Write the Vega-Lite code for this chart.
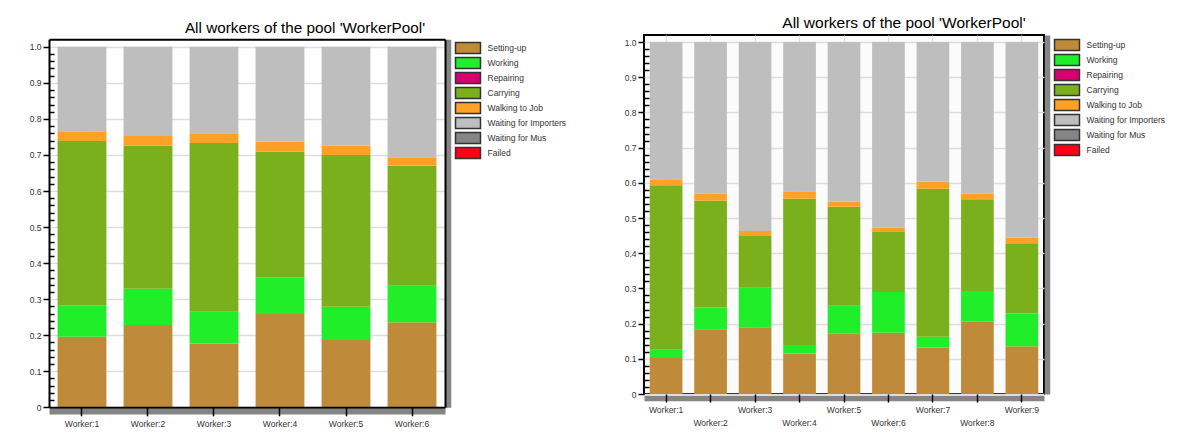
{
  "$schema": "https://vega.github.io/schema/vega-lite/v6.json",
  "background": "white",
  "padding": {"left": 5, "top": 14, "right": 5, "bottom": 5},
  "spacing": 26,
  "resolve": {"scale": {"color": "independent"}, "legend": {"color": "independent"}},
  "datasets": {
    "pool1": [
      {"worker": "Worker:1", "state": "Setting-up", "n": 1, "share": 0.196},
      {"worker": "Worker:1", "state": "Working", "n": 2, "share": 0.087},
      {"worker": "Worker:1", "state": "Carrying", "n": 4, "share": 0.456},
      {"worker": "Worker:1", "state": "Walking to Job", "n": 5, "share": 0.027},
      {"worker": "Worker:1", "state": "Waiting for Importers", "n": 6, "share": 0.234},
      {"worker": "Worker:2", "state": "Setting-up", "n": 1, "share": 0.228},
      {"worker": "Worker:2", "state": "Working", "n": 2, "share": 0.101},
      {"worker": "Worker:2", "state": "Carrying", "n": 4, "share": 0.397},
      {"worker": "Worker:2", "state": "Walking to Job", "n": 5, "share": 0.027},
      {"worker": "Worker:2", "state": "Waiting for Importers", "n": 6, "share": 0.247},
      {"worker": "Worker:3", "state": "Setting-up", "n": 1, "share": 0.177},
      {"worker": "Worker:3", "state": "Working", "n": 2, "share": 0.088},
      {"worker": "Worker:3", "state": "Carrying", "n": 4, "share": 0.468},
      {"worker": "Worker:3", "state": "Walking to Job", "n": 5, "share": 0.027},
      {"worker": "Worker:3", "state": "Waiting for Importers", "n": 6, "share": 0.240},
      {"worker": "Worker:4", "state": "Setting-up", "n": 1, "share": 0.259},
      {"worker": "Worker:4", "state": "Working", "n": 2, "share": 0.102},
      {"worker": "Worker:4", "state": "Carrying", "n": 4, "share": 0.349},
      {"worker": "Worker:4", "state": "Walking to Job", "n": 5, "share": 0.027},
      {"worker": "Worker:4", "state": "Waiting for Importers", "n": 6, "share": 0.263},
      {"worker": "Worker:5", "state": "Setting-up", "n": 1, "share": 0.187},
      {"worker": "Worker:5", "state": "Working", "n": 2, "share": 0.092},
      {"worker": "Worker:5", "state": "Carrying", "n": 4, "share": 0.421},
      {"worker": "Worker:5", "state": "Walking to Job", "n": 5, "share": 0.026},
      {"worker": "Worker:5", "state": "Waiting for Importers", "n": 6, "share": 0.274},
      {"worker": "Worker:6", "state": "Setting-up", "n": 1, "share": 0.236},
      {"worker": "Worker:6", "state": "Working", "n": 2, "share": 0.101},
      {"worker": "Worker:6", "state": "Carrying", "n": 4, "share": 0.333},
      {"worker": "Worker:6", "state": "Walking to Job", "n": 5, "share": 0.024},
      {"worker": "Worker:6", "state": "Waiting for Importers", "n": 6, "share": 0.306}
    ],
    "pool2": [
      {"worker": "Worker:1", "state": "Setting-up", "n": 1, "share": 0.102},
      {"worker": "Worker:1", "state": "Working", "n": 2, "share": 0.024},
      {"worker": "Worker:1", "state": "Carrying", "n": 4, "share": 0.467},
      {"worker": "Worker:1", "state": "Walking to Job", "n": 5, "share": 0.017},
      {"worker": "Worker:1", "state": "Waiting for Importers", "n": 6, "share": 0.390},
      {"worker": "Worker:2", "state": "Setting-up", "n": 1, "share": 0.184},
      {"worker": "Worker:2", "state": "Working", "n": 2, "share": 0.062},
      {"worker": "Worker:2", "state": "Carrying", "n": 4, "share": 0.303},
      {"worker": "Worker:2", "state": "Walking to Job", "n": 5, "share": 0.021},
      {"worker": "Worker:2", "state": "Waiting for Importers", "n": 6, "share": 0.430},
      {"worker": "Worker:3", "state": "Setting-up", "n": 1, "share": 0.190},
      {"worker": "Worker:3", "state": "Working", "n": 2, "share": 0.112},
      {"worker": "Worker:3", "state": "Carrying", "n": 4, "share": 0.147},
      {"worker": "Worker:3", "state": "Walking to Job", "n": 5, "share": 0.014},
      {"worker": "Worker:3", "state": "Waiting for Importers", "n": 6, "share": 0.537},
      {"worker": "Worker:4", "state": "Setting-up", "n": 1, "share": 0.115},
      {"worker": "Worker:4", "state": "Working", "n": 2, "share": 0.024},
      {"worker": "Worker:4", "state": "Carrying", "n": 4, "share": 0.416},
      {"worker": "Worker:4", "state": "Walking to Job", "n": 5, "share": 0.021},
      {"worker": "Worker:4", "state": "Waiting for Importers", "n": 6, "share": 0.424},
      {"worker": "Worker:5", "state": "Setting-up", "n": 1, "share": 0.171},
      {"worker": "Worker:5", "state": "Working", "n": 2, "share": 0.080},
      {"worker": "Worker:5", "state": "Carrying", "n": 4, "share": 0.281},
      {"worker": "Worker:5", "state": "Walking to Job", "n": 5, "share": 0.014},
      {"worker": "Worker:5", "state": "Waiting for Importers", "n": 6, "share": 0.454},
      {"worker": "Worker:6", "state": "Setting-up", "n": 1, "share": 0.174},
      {"worker": "Worker:6", "state": "Working", "n": 2, "share": 0.116},
      {"worker": "Worker:6", "state": "Carrying", "n": 4, "share": 0.170},
      {"worker": "Worker:6", "state": "Walking to Job", "n": 5, "share": 0.013},
      {"worker": "Worker:6", "state": "Waiting for Importers", "n": 6, "share": 0.527},
      {"worker": "Worker:7", "state": "Setting-up", "n": 1, "share": 0.132},
      {"worker": "Worker:7", "state": "Working", "n": 2, "share": 0.031},
      {"worker": "Worker:7", "state": "Carrying", "n": 4, "share": 0.420},
      {"worker": "Worker:7", "state": "Walking to Job", "n": 5, "share": 0.021},
      {"worker": "Worker:7", "state": "Waiting for Importers", "n": 6, "share": 0.396},
      {"worker": "Worker:8", "state": "Setting-up", "n": 1, "share": 0.205},
      {"worker": "Worker:8", "state": "Working", "n": 2, "share": 0.088},
      {"worker": "Worker:8", "state": "Carrying", "n": 4, "share": 0.260},
      {"worker": "Worker:8", "state": "Walking to Job", "n": 5, "share": 0.017},
      {"worker": "Worker:8", "state": "Waiting for Importers", "n": 6, "share": 0.430},
      {"worker": "Worker:9", "state": "Setting-up", "n": 1, "share": 0.136},
      {"worker": "Worker:9", "state": "Working", "n": 2, "share": 0.093},
      {"worker": "Worker:9", "state": "Carrying", "n": 4, "share": 0.199},
      {"worker": "Worker:9", "state": "Walking to Job", "n": 5, "share": 0.017},
      {"worker": "Worker:9", "state": "Waiting for Importers", "n": 6, "share": 0.555}
    ]
  },
  "hconcat": [
    {"vconcat": [
    {
      "data": {"name": "pool1"},
      "width": 396,
      "height": 372.3,
      "view": {"stroke": null, "fill": "white"},
      "title": {"text": "All workers of the pool 'WorkerPool'", "font": "Liberation Sans", "fontSize": 15.3, "fontWeight": "normal", "color": "black", "anchor": "middle", "frame": "group", "dx": 58, "offset": -1.3},
      "layer": [
        {
          "mark": {"type": "bar"},
          "encoding": {
            "x": {"field": "worker", "type": "nominal", "sort": null,
              "scale": {"paddingInner": 0.26, "paddingOuter": 0.13},
              "axis": {"title": null, "labelAngle": 0, "labelFont": "Liberation Sans", "labelFontSize": 8.5, "labelColor": "#333", "labelPadding": 3.5, "tickSize": 8.5, "tickColor": "black", "tickWidth": 1.5, "domain": true, "domainColor": "black", "domainWidth": 2, "grid": false, "labelOverlap": false, "zindex": 1}},
            "y": {"field": "share", "type": "quantitative",
              "scale": {"domain": [0, 1.021], "range": [372.3, 4.3], "nice": false, "zero": true},
              "axis": {"title": null, "orient": "left", "values": [0, 0.1, 0.2, 0.3, 0.4, 0.5, 0.6, 0.7, 0.8, 0.9, 1.0], "labelExpr": "datum.value == 0 ? '0' : format(datum.value, '.1f')", "labelFont": "Liberation Sans", "labelFontSize": 8.5, "labelColor": "#333", "labelPadding": 2, "tickSize": 6, "tickColor": "black", "tickWidth": 1.5, "domain": true, "domainColor": "black", "domainWidth": 2, "grid": true, "gridColor": "#DDDDDD", "gridWidth": 1.5, "minExtent": 44, "maxExtent": 44, "zindex": 0}},
            "color": {"field": "state", "type": "nominal",
              "scale": {"domain": ["Setting-up", "Working", "Repairing", "Carrying", "Walking to Job", "Waiting for Importers", "Waiting for Mus", "Failed"],
                        "range": ["#BF8B3B", "#20EE28", "#D8006F", "#7AB01C", "#FFA126", "#BEBEBE", "#858585", "#FF0016"]},
              "legend": {"title": null, "offset": 7, "padding": 6.5, "symbolType": "M-2.27,-1H2.27V1H-2.27Z", "symbolSize": 121, "symbolStrokeColor": "#333", "symbolStrokeWidth": 1.5, "symbolOpacity": 1, "labelFont": "Liberation Sans", "labelFontSize": 8.5, "labelColor": "#333", "labelOffset": 13, "rowPadding": -3}},
            "order": {"field": "n", "type": "quantitative"}
          }
        },
        {
          "mark": {"type": "point", "opacity": 0},
          "encoding": {
            "x": {"field": "worker", "type": "nominal", "sort": null,
              "axis": {"title": null, "orient": "top", "labels": false, "ticks": false, "grid": false, "domain": true, "domainColor": "black", "domainWidth": 2, "offset": -4.3, "zindex": 1, "minExtent": 0, "maxExtent": 0}},
            "y": {"field": "share", "type": "quantitative",
              "axis": {"title": null, "orient": "left", "values": [0.02,0.04,0.06,0.08,0.12,0.14,0.16,0.18,0.22,0.24,0.26,0.28,0.32,0.34,0.36,0.38,0.42,0.44,0.46,0.48,0.52,0.54,0.56,0.58,0.62,0.64,0.66,0.68,0.72,0.74,0.76,0.78,0.82,0.84,0.86,0.88,0.92,0.94,0.96,0.98], "labels": false, "domain": false, "grid": false, "tickSize": -5, "tickColor": "black", "tickWidth": 1.5, "minExtent": 0, "maxExtent": 0, "zindex": 1}}
          }
        },
        {
          "mark": {"type": "point", "opacity": 0},
          "encoding": {
            "x": {"field": "worker", "type": "nominal", "sort": null,
              "axis": {"title": null, "orient": "bottom", "labels": false, "ticks": false, "grid": false, "domain": true, "domainColor": "#858585", "domainWidth": 5.5, "offset": 4, "zindex": 0, "minExtent": 0, "maxExtent": 0}},
            "y": {"field": "share", "type": "quantitative",
              "axis": {"title": null, "orient": "right", "labels": false, "ticks": false, "grid": false, "domain": true, "domainColor": "#858585", "domainWidth": 5.5, "offset": 3, "zindex": 0, "minExtent": 0, "maxExtent": 0}}
          }
        },
        {
          "mark": {"type": "point", "opacity": 0},
          "encoding": {
            "y": {"field": "share", "type": "quantitative",
              "axis": {"title": null, "orient": "right", "labels": false, "ticks": false, "grid": false, "domain": true, "domainColor": "black", "domainWidth": 2, "offset": 0, "zindex": 1, "minExtent": 0, "maxExtent": 0}}
          }
        }
      ],
      "resolve": {"axis": {"x": "independent", "y": "independent"}}
    }]},
    {"vconcat": [
    {
      "data": {"name": "pool2"},
      "width": 400,
      "height": 359,
      "title": {"text": "All workers of the pool 'WorkerPool'", "font": "Liberation Sans", "fontSize": 15.5, "fontWeight": "normal", "color": "black", "anchor": "middle", "frame": "group", "dx": 60, "offset": 3.7},
      "layer": [
        {
          "mark": {"type": "bar"},
          "encoding": {
            "x": {"field": "worker", "type": "nominal", "sort": null,
              "scale": {"paddingInner": 0.265, "paddingOuter": 0.13},
              "axis": {"title": null, "labelAngle": 0, "labelFont": "Liberation Sans", "labelFontSize": 8.5, "labelColor": "#333", "labelPadding": 3, "tickSize": 8, "tickColor": "black", "tickWidth": 1.5, "domain": false, "grid": false, "labelOverlap": false, "zindex": 1, "labelLineHeight": 13.4,
                "labelExpr": "indexof(['Worker:2','Worker:4','Worker:6','Worker:8'], datum.value) >= 0 ? [' ', datum.label] : datum.label"}},
            "y": {"field": "share", "type": "quantitative",
              "scale": {"domain": [0, 1.02], "nice": false, "zero": true},
              "axis": {"title": null, "orient": "left", "values": [0, 0.1, 0.2, 0.3, 0.4, 0.5, 0.6, 0.7, 0.8, 0.9, 1.0], "labelExpr": "datum.value == 0 ? '0' : format(datum.value, '.1f')", "labelFont": "Liberation Sans", "labelFontSize": 8.5, "labelColor": "#333", "labelPadding": 2, "tickSize": 6, "tickColor": "black", "tickWidth": 1.5, "domain": false, "grid": true, "gridColor": "#DDDDDD", "gridWidth": 1.5, "minExtent": 44, "maxExtent": 44, "zindex": 0}},
            "color": {"field": "state", "type": "nominal",
              "scale": {"domain": ["Setting-up", "Working", "Repairing", "Carrying", "Walking to Job", "Waiting for Importers", "Waiting for Mus", "Failed"],
                        "range": ["#BF8B3B", "#20EE28", "#D8006F", "#7AB01C", "#FFA126", "#BEBEBE", "#858585", "#FF0016"]},
              "legend": {"title": null, "offset": 9, "padding": 3.5, "symbolType": "M-2.27,-1H2.27V1H-2.27Z", "symbolSize": 121, "symbolStrokeColor": "#333", "symbolStrokeWidth": 1.5, "symbolOpacity": 1, "labelFont": "Liberation Sans", "labelFontSize": 8.5, "labelColor": "#333", "labelOffset": 13, "rowPadding": -3}},
            "order": {"field": "n", "type": "quantitative"}
          }
        },
        {
          "mark": {"type": "point", "opacity": 0},
          "encoding": {
            "x": {"field": "worker", "type": "nominal", "sort": null,
              "axis": {"title": null, "orient": "bottom", "labels": false, "ticks": false, "domain": false, "grid": true, "gridColor": "#DDDDDD", "gridWidth": 1.2, "zindex": 0, "minExtent": 0, "maxExtent": 0}},
            "y": {"field": "share", "type": "quantitative",
              "axis": {"title": null, "orient": "left", "values": [0.02,0.04,0.06,0.08,0.12,0.14,0.16,0.18,0.22,0.24,0.26,0.28,0.32,0.34,0.36,0.38,0.42,0.44,0.46,0.48,0.52,0.54,0.56,0.58,0.62,0.64,0.66,0.68,0.72,0.74,0.76,0.78,0.82,0.84,0.86,0.88,0.92,0.94,0.96,0.98], "labels": false, "domain": false, "grid": false, "tickSize": -5, "tickColor": "black", "tickWidth": 1.5, "minExtent": 0, "maxExtent": 0, "zindex": 1}}
          }
        },
        {
          "mark": {"type": "point", "opacity": 0},
          "encoding": {
            "x": {"field": "worker", "type": "nominal", "sort": null,
              "axis": {"title": null, "orient": "bottom", "labels": false, "ticks": false, "grid": false, "domain": true, "domainColor": "#858585", "domainWidth": 5.5, "offset": 4, "zindex": 0, "minExtent": 0, "maxExtent": 0}},
            "y": {"field": "share", "type": "quantitative",
              "axis": {"title": null, "orient": "right", "labels": false, "ticks": false, "grid": false, "domain": true, "domainColor": "#858585", "domainWidth": 5.5, "offset": 3, "zindex": 0, "minExtent": 0, "maxExtent": 0}}
          }
        }
      ],
      "resolve": {"axis": {"x": "independent", "y": "independent"}}
    }]}
  ],
  "config": {
    "view": {"stroke": "black", "strokeWidth": 2, "fill": "#FBFBFB"},
    "font": "Liberation Sans"
  }
}
